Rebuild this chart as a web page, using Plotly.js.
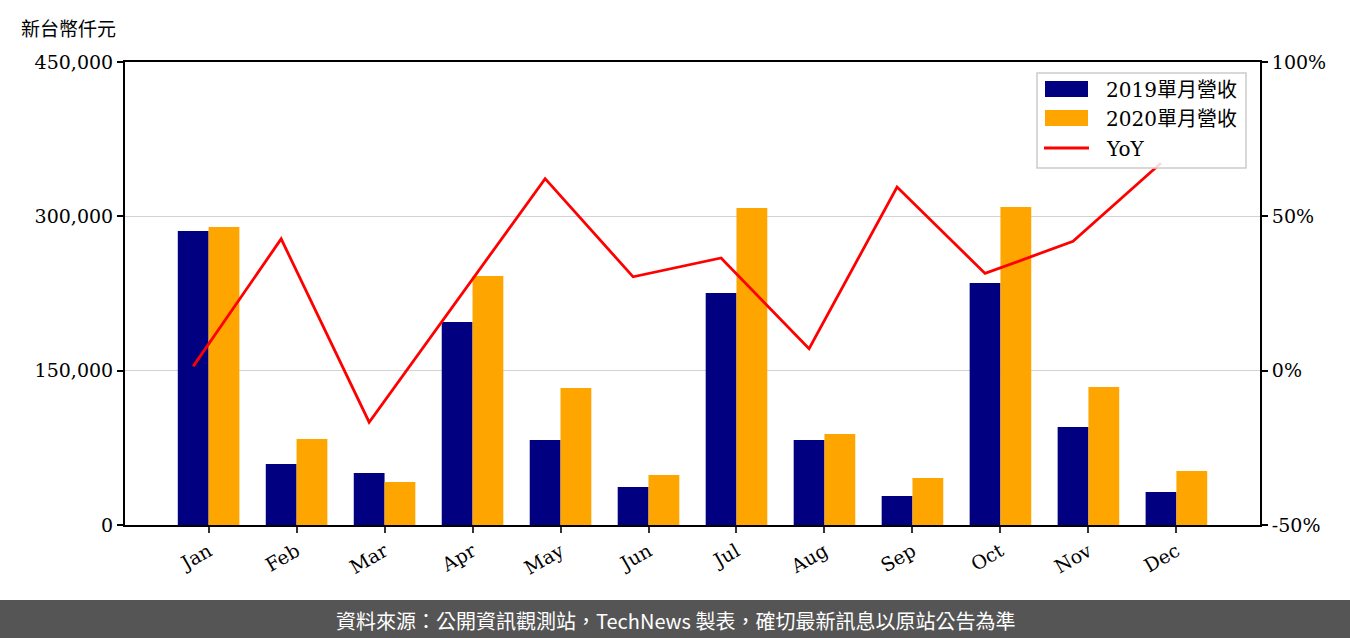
<!DOCTYPE html>
<html>
<head>
<meta charset="utf-8">
<script src="https://cdn.plot.ly/plotly-3.0.1.min.js"></script>
<style>
  html, body { margin: 0; padding: 0; background: #fff; }
  #chart { width: 1350px; height: 638px; }
</style>
</head>
<body>
<div id="chart"></div>
<script>
const months = ['Jan','Feb','Mar','Apr','May','Jun','Jul','Aug','Sep','Oct','Nov','Dec'];
const rev2019 = [285700, 59300, 50500, 197300, 82600, 36900, 225500, 82600, 28200, 235200, 95200, 32100];
const rev2020 = [289600, 83600, 41800, 242000, 133100, 48600, 308100, 88400, 45700, 309100, 134100, 52500];
const yoy = [1.4, 42.7, -16.7, 22.7, 62.2, 30.4, 36.5, 7.1, 59.5, 31.5, 41.9, 67.3];
const leftTicks = [0, 150000, 300000, 450000];
const rightTicks = [-50, 0, 50, 100];
const rightTickText = ['-50%', '0%', '50%', '100%'];
const seriesNames = ['2019單月營收', '2020單月營收', 'YoY'];
const yTitle = '新台幣仟元';
const footer = '資料來源：公開資訊觀測站，TechNews 製表，確切最新訊息以原站公告為準';

const serif = 'DejaVu Serif, "Noto Sans CJK TC", serif';
const cjk = '"Noto Sans CJK TC", "Noto Sans CJK SC", sans-serif';

const traces = [
  { type: 'bar', x: months, y: rev2019, name: seriesNames[0], marker: { color: '#000080' },
    offset: -0.35, width: 0.35, showlegend: false },
  { type: 'bar', x: months, y: rev2020, name: seriesNames[1], marker: { color: '#FFA500' },
    offset: 0, width: 0.35, showlegend: false },
  { type: 'scatter', mode: 'lines', x: months, y: yoy, xaxis: 'x2', yaxis: 'y2', name: seriesNames[2],
    line: { color: '#FF0000', width: 2.8 }, showlegend: false }
];

// plot area in pixels: x 125..1260, y 62..525
const L = 125, R = 1260, T = 62, B = 525;
const px = v => (v - L) / (R - L);
const py = v => (B - v) / (B - T);
const xRange = [-0.95, 11.95];
const lineShift = 0.175; // YoY points sit at the centre of the 2019 bar

const shapes = [
  { type: 'rect', xref: 'paper', yref: 'paper', x0: px(0), x1: px(1350), y0: py(600), y1: py(640),
    fillcolor: '#555555', line: { width: 0 }, layer: 'above' },
  { type: 'rect', xref: 'paper', yref: 'paper', x0: px(1037), x1: px(1246), y0: py(168), y1: py(73),
    fillcolor: 'rgba(255,255,255,0.85)', line: { color: '#cccccc', width: 1.5 }, layer: 'above' },
  { type: 'rect', xref: 'paper', yref: 'paper', x0: px(1045), x1: px(1088), y0: py(97), y1: py(81),
    fillcolor: '#000080', line: { width: 0 }, layer: 'above' },
  { type: 'rect', xref: 'paper', yref: 'paper', x0: px(1045), x1: px(1088), y0: py(126), y1: py(110),
    fillcolor: '#FFA500', line: { width: 0 }, layer: 'above' },
  { type: 'line', xref: 'paper', yref: 'paper', x0: px(1044), x1: px(1089), y0: py(148), y1: py(148),
    line: { color: '#FF0000', width: 3 }, layer: 'above' }
];

const annotations = [
  { xref: 'paper', yref: 'paper', x: px(19), y: py(27), xanchor: 'left', yanchor: 'middle',
    text: yTitle, showarrow: false, font: { family: cjk, size: 19, color: '#000' } },
  { xref: 'paper', yref: 'paper', x: px(1104), y: py(90), xanchor: 'left', yanchor: 'middle',
    text: seriesNames[0], showarrow: false, font: { family: serif, size: 20, color: '#000' } },
  { xref: 'paper', yref: 'paper', x: px(1104), y: py(119), xanchor: 'left', yanchor: 'middle',
    text: seriesNames[1], showarrow: false, font: { family: serif, size: 20, color: '#000' } },
  { xref: 'paper', yref: 'paper', x: px(1104), y: py(149), xanchor: 'left', yanchor: 'middle',
    text: seriesNames[2], showarrow: false, font: { family: serif, size: 20, color: '#000' } },
  { xref: 'paper', yref: 'paper', x: px(675), y: py(620), xanchor: 'center', yanchor: 'middle',
    text: footer, showarrow: false, font: { family: cjk, size: 20, color: '#ffffff' } }
];

const layout = {
  width: 1350, height: 638,
  margin: { l: L, r: 1350 - R, t: T, b: 638 - B, pad: 0 },
  paper_bgcolor: '#ffffff', plot_bgcolor: '#ffffff',
  barmode: 'overlay',
  showlegend: false,
  xaxis: {
    type: 'category', range: xRange,
    tickangle: -30, tickfont: { family: serif, size: 19, color: '#000' },
    showline: true, linecolor: '#000', linewidth: 2, mirror: true,
    ticks: 'outside', ticklen: 6, tickwidth: 2, tickcolor: '#333',
    showgrid: false, zeroline: false
  },
  xaxis2: {
    type: 'category', overlaying: 'x', visible: false,
    range: [xRange[0] + lineShift, xRange[1] + lineShift]
  },
  yaxis: {
    range: [0, 450000], tickvals: leftTicks, tickformat: ',d',
    tickfont: { family: serif, size: 19, color: '#000' },
    showline: true, linecolor: '#000', linewidth: 2,
    ticks: 'outside', ticklen: 6, tickwidth: 2, tickcolor: '#000',
    showgrid: true, gridcolor: '#d3d3d3', gridwidth: 1.5, zeroline: false
  },
  yaxis2: {
    overlaying: 'y', side: 'right', range: [-50, 100], tickvals: rightTicks, ticktext: rightTickText,
    tickfont: { family: serif, size: 19, color: '#000' },
    showline: true, linecolor: '#000', linewidth: 2,
    ticks: 'outside', ticklen: 6, tickwidth: 2, tickcolor: '#000',
    showgrid: false, zeroline: false
  },
  shapes: shapes,
  annotations: annotations
};

Plotly.newPlot('chart', traces, layout, { displayModeBar: false, staticPlot: true });
</script>
</body>
</html>
